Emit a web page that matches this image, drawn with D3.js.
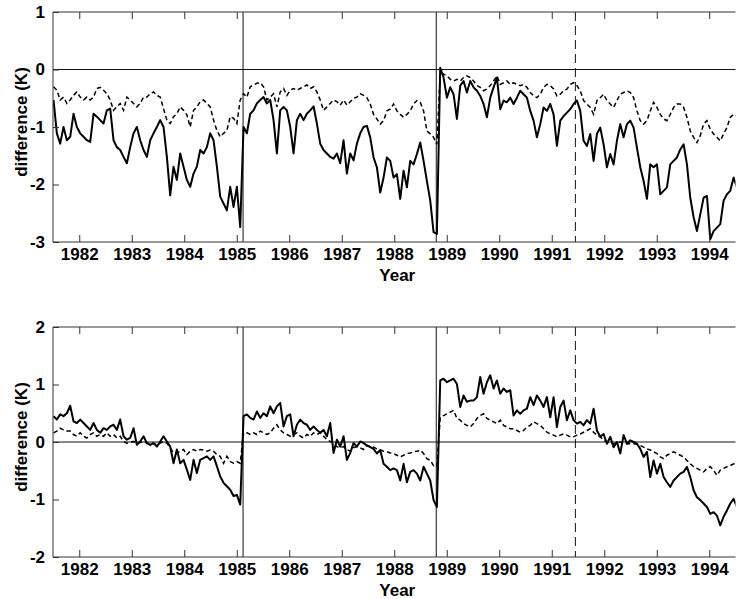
<!DOCTYPE html>
<html>
<head>
<meta charset="utf-8">
<script src="https://cdn.jsdelivr.net/npm/d3@7"></script>
<style>
  body { margin: 0; background: #fff; }
  svg { display: block; }
  text { font-family: "Liberation Sans", Arial, Helvetica, sans-serif; font-weight: bold; }
</style>
</head>
<body>
<div id="chart"></div>
<script>
const startYear = 1981.51;
const stepYear = 0.0635;

const yearTicks = d3.range(1982, 1995);
const topTicks = [-3, -2, -1, 0, 1];
const bottomTicks = [-2, -1, 0, 1, 2];
const breakYears = [1985.12, 1988.8];   // solid vertical lines
const dashedYear = 1991.45;             // dashed vertical line

// upper panel
const topSolid = [
  -0.53, -1.11, -1.29, -1.0, -1.23, -1.17, -0.77, -1.0, -1.11, -1.17,
  -1.23, -1.26, -0.77, -0.82, -0.88, -0.94, -0.71, -0.68, -1.23, -1.35,
  -1.40, -1.52, -1.63, -1.35, -1.11, -1.0, -1.23, -1.40, -1.52, -1.23,
  -1.11, -1.0, -0.88, -1.0, -1.52, -2.19, -1.69, -1.92, -1.46, -1.69,
  -1.92, -2.04, -1.81, -1.69, -1.40, -1.46, -1.35, -1.11, -1.23, -1.69,
  -2.21, -2.33, -2.45, -2.04, -2.39, -2.04, -2.74, -1.0, -1.11, -0.77,
  -0.71, -0.59, -0.53, -0.48, -0.59, -0.53, -0.88, -1.46, -0.71, -0.65,
  -0.71, -1.0, -1.46, -0.88, -0.77, -0.88, -0.77, -0.71, -0.64, -0.94,
  -1.29, -1.40, -1.46, -1.52, -1.55, -1.46, -1.63, -1.23, -1.81, -1.46,
  -1.58, -1.29, -1.11, -1.0,
  -0.98, -1.18, -1.53, -1.70, -2.14, -1.88, -1.53, -1.59, -1.88, -1.82,
  -2.25, -1.76, -2.05, -1.59, -1.65, -1.47, -1.27, -1.59, -1.94, -2.28,
  -2.83, -2.86, 0.03, -0.14, -0.49, -0.31, -0.43, -0.86, -0.28, -0.20,
  -0.40, -0.20, -0.31, -0.37, -0.46, -0.60, -0.83, -0.49, -0.31, -0.14,
  -0.69, -0.54, -0.57, -0.49, -0.60, -0.49, -0.37, -0.43, -0.49, -0.72,
  -0.89, -1.18, -0.95, -0.66, -0.72, -0.60, -0.78, -1.33, -0.89, -0.81,
  -0.75, -0.69, -0.60, -0.54, -0.72, -1.24, -1.33, -1.12, -1.59, -1.12,
  -1.01, -1.30, -1.70, -1.47, -1.65, -1.24, -0.95, -1.18, -0.95, -0.89,
  -1.01, -1.36, -1.70, -1.94, -2.25, -1.65, -1.70, -1.65, -2.17, -2.11,
  -2.05, -1.65, -1.59, -1.53, -1.39, -1.30, -1.65, -2.23, -2.57, -2.81,
  -2.52, -2.23, -2.20, -2.95, -2.81, -2.75, -2.69, -2.28, -2.17, -2.11,
  -1.88, -2.05
];
const topDashed = [
  -0.30, -0.36, -0.53, -0.48, -0.59, -0.53, -0.45, -0.39, -0.48, -0.53,
  -0.48, -0.53, -0.48, -0.33, -0.31, -0.36, -0.42, -0.53, -0.71, -0.65,
  -0.59, -0.71, -0.48, -0.53, -0.59, -0.65, -0.59, -0.48, -0.48, -0.42,
  -0.39, -0.45, -0.48, -0.68, -0.88, -0.94, -0.82, -0.77, -0.65, -0.71,
  -0.79, -1.00, -0.71, -0.65, -0.56, -0.53, -0.59, -0.65, -0.88, -1.06,
  -1.17, -1.11, -1.06, -0.82, -0.85, -0.94, -0.53, -0.42, -0.48, -0.30,
  -0.27, -0.24, -0.23, -0.30, -0.53, -0.48, -0.42, -0.65, -0.39, -0.33,
  -0.45, -0.36, -0.33, -0.36, -0.33, -0.30, -0.27, -0.33, -0.30, -0.39,
  -0.53, -0.71, -0.65, -0.59, -0.53, -0.56, -0.62, -0.53, -0.62, -0.56,
  -0.50, -0.48, -0.42, -0.45,
  -0.49, -0.60, -0.78, -0.86, -0.95, -0.89, -0.72, -0.69, -0.60, -0.72,
  -0.78, -0.83, -0.78, -0.72, -0.60, -0.54, -0.57, -0.72, -1.07, -1.12,
  -1.18, -1.30, -0.05, -0.08, -0.11, -0.17, -0.20, -0.17, -0.20, -0.14,
  -0.11, -0.14, -0.20, -0.28, -0.31, -0.37, -0.34, -0.28, -0.20, -0.11,
  -0.26, -0.23, -0.20, -0.26, -0.23, -0.26, -0.28, -0.26, -0.31, -0.40,
  -0.46, -0.49, -0.43, -0.31, -0.26, -0.28, -0.34, -0.46, -0.43, -0.37,
  -0.34, -0.26, -0.23, -0.28, -0.37, -0.54, -0.60, -0.66, -0.78, -0.54,
  -0.49, -0.43, -0.54, -0.60, -0.66, -0.54, -0.43, -0.40, -0.37, -0.40,
  -0.49, -0.72, -0.89, -0.95, -0.89, -0.72, -0.57, -0.66, -0.78, -0.86,
  -0.89, -0.78, -0.66, -0.60, -0.60, -0.66, -0.83, -1.07, -1.18, -1.27,
  -1.15, -0.95, -0.89, -1.04, -1.12, -1.18, -1.24, -1.12, -1.01, -0.83,
  -0.78, -0.81
];

// lower panel
const bottomSolid = [
  0.45, 0.39, 0.48, 0.45, 0.50, 0.63, 0.36, 0.33, 0.39, 0.33,
  0.27, 0.21, 0.33, 0.21, 0.16, 0.24, 0.21, 0.27, 0.30, 0.21,
  0.39, 0.10, 0.04, 0.07, 0.24, -0.05, 0.01, 0.10, -0.02, -0.05,
  -0.02, -0.08, 0.01, 0.10, 0.01, -0.08, -0.37, -0.13, -0.37, -0.31,
  -0.48, -0.66, -0.31, -0.54, -0.31, -0.28, -0.25, -0.31, -0.25, -0.42,
  -0.60, -0.71, -0.77, -0.83, -0.94, -0.92, -1.09, 0.45, 0.48, 0.42,
  0.39, 0.53, 0.42, 0.50, 0.45, 0.62, 0.50, 0.62, 0.68, 0.27,
  0.45, 0.48, 0.10, 0.30, 0.39, 0.33, 0.30, 0.21, 0.27, 0.21,
  0.16, 0.21, 0.10, 0.33, -0.19, 0.04, -0.08, 0.10, -0.31, -0.19,
  -0.02, -0.08, 0.01, -0.02,
  -0.06, -0.09, -0.12, -0.20, -0.14, -0.38, -0.43, -0.49, -0.46, -0.49,
  -0.67, -0.38, -0.70, -0.52, -0.49, -0.55, -0.67, -0.43, -0.55, -0.67,
  -1.01, -1.13, 1.07, 1.10, 1.04, 1.07, 1.10, 1.01, 0.61, 0.81,
  0.70, 0.72, 0.72, 0.78, 1.13, 0.84, 1.04, 1.16, 0.93, 1.07,
  0.84, 0.93, 0.87, 0.90, 0.46, 0.55, 0.49, 0.55, 0.58, 0.78,
  0.64, 0.81, 0.72, 0.61, 0.78, 0.43, 0.78, 0.26, 0.61, 0.72,
  0.38, 0.55, 0.38, 0.32, 0.35, 0.29, 0.38, 0.32, 0.58, 0.20,
  0.09, 0.14, -0.03, 0.09, -0.09, 0.0, -0.20, 0.12, -0.03, 0.03,
  0.0, -0.03, -0.12, -0.26, -0.17, -0.61, -0.32, -0.55, -0.38, -0.61,
  -0.70, -0.78, -0.67, -0.61, -0.55, -0.52, -0.43, -0.61, -0.84, -0.96,
  -1.01, -1.07, -1.13, -1.25, -1.22, -1.28, -1.45, -1.30, -1.19, -1.07,
  -0.99, -1.13
];
const bottomDashed = [
  0.16, 0.19, 0.24, 0.21, 0.19, 0.19, 0.13, 0.10, 0.16, 0.10,
  0.07, 0.13, 0.16, 0.10, 0.13, 0.10, 0.16, 0.10, 0.13, 0.07,
  0.10, 0.01, -0.02, -0.01, 0.01, -0.02, -0.01, 0.01, -0.02, -0.03,
  -0.02, -0.05, -0.02, 0.01, -0.02, -0.10, -0.19, -0.19, -0.16, -0.13,
  -0.22, -0.16, -0.13, -0.16, -0.13, -0.14, -0.16, -0.14, -0.16, -0.22,
  -0.25, -0.37, -0.25, -0.34, -0.37, -0.34, -0.37, 0.16, 0.16, 0.13,
  0.16, 0.13, 0.19, 0.16, 0.13, 0.16, 0.24, 0.30, 0.21, 0.16,
  0.13, 0.10, 0.13, 0.16, 0.10, 0.07, 0.13, 0.10, 0.16, 0.13,
  0.16, 0.10, 0.04, 0.01, -0.02, -0.08, -0.10, -0.08, -0.13, -0.16,
  -0.10, -0.08, -0.10, -0.13,
  -0.06, -0.08, -0.09, -0.12, -0.14, -0.16, -0.17, -0.19, -0.20, -0.23,
  -0.26, -0.23, -0.20, -0.19, -0.17, -0.16, -0.14, -0.20, -0.29, -0.32,
  -0.41, -0.43, 0.43, 0.46, 0.49, 0.52, 0.55, 0.41, 0.38, 0.32,
  0.29, 0.26, 0.32, 0.41, 0.46, 0.49, 0.41, 0.38, 0.35, 0.32,
  0.38, 0.29, 0.26, 0.23, 0.23, 0.20, 0.17, 0.20, 0.26, 0.29,
  0.35, 0.32, 0.29, 0.23, 0.17, 0.14, 0.12, 0.09, 0.12, 0.14,
  0.12, 0.09, 0.09, 0.12, 0.14, 0.17, 0.20, 0.23, 0.17, 0.12,
  0.09, 0.03, 0.0, -0.02, -0.03, -0.02, 0.0, -0.02, -0.03, -0.03,
  -0.03, -0.04, -0.06, -0.09, -0.12, -0.14, -0.17, -0.20, -0.26, -0.29,
  -0.23, -0.20, -0.17, -0.20, -0.23, -0.26, -0.32, -0.38, -0.43, -0.46,
  -0.49, -0.52, -0.46, -0.43, -0.49, -0.58, -0.49, -0.46, -0.43, -0.41,
  -0.38, -0.39
];

const width = 736, height = 599;
const left = 53, right = 735.5;
const fontSize = 17;

const svg = d3.select('#chart').append('svg')
  .attr('width', width)
  .attr('height', height);

const x = d3.scaleLinear().domain([1981.5, 1994.5]).range([left, right]);

function drawPanel(opts) {
  const y = d3.scaleLinear().domain(opts.domain).range([opts.bottom, opts.top]);
  const g = svg.append('g');
  const clipId = 'clip-' + opts.name;

  svg.append('clipPath').attr('id', clipId)
    .append('rect')
    .attr('x', left).attr('y', opts.top)
    .attr('width', right - left).attr('height', opts.bottom - opts.top);

  // zero line
  g.append('line')
    .attr('x1', left).attr('x2', right)
    .attr('y1', y(0)).attr('y2', y(0))
    .attr('stroke', '#111').attr('stroke-width', 1);

  // vertical markers
  breakYears.forEach(yr => {
    g.append('line')
      .attr('x1', x(yr)).attr('x2', x(yr))
      .attr('y1', opts.top).attr('y2', opts.bottom)
      .attr('stroke', '#111').attr('stroke-width', 1);
  });
  g.append('line')
    .attr('x1', x(dashedYear)).attr('x2', x(dashedYear))
    .attr('y1', opts.top).attr('y2', opts.bottom)
    .attr('stroke', '#111').attr('stroke-width', 1)
    .attr('stroke-dasharray', '9,5');

  const line = d3.line()
    .x((d, i) => x(startYear + i * stepYear))
    .y(d => y(d));

  const series = g.append('g').attr('clip-path', `url(#${clipId})`);
  series.append('path')
    .datum(opts.dashed)
    .attr('d', line)
    .attr('fill', 'none')
    .attr('stroke', '#000')
    .attr('stroke-width', 1.5)
    .attr('stroke-dasharray', '4.5,3');
  series.append('path')
    .datum(opts.solid)
    .attr('d', line)
    .attr('fill', 'none')
    .attr('stroke', '#000')
    .attr('stroke-width', 2)
    .attr('stroke-linejoin', 'round');

  // frame: top, left, bottom
  g.append('path')
    .attr('d', `M${right},${opts.top}H${left}V${opts.bottom}H${right}`)
    .attr('fill', 'none')
    .attr('stroke', '#333')
    .attr('stroke-width', 1);

  // bottom axis with inward ticks
  const xAxis = g.append('g')
    .attr('transform', `translate(0,${opts.bottom})`)
    .call(d3.axisBottom(x).tickValues(yearTicks).tickFormat(d3.format('d'))
      .tickSizeInner(-7).tickSizeOuter(0).tickPadding(6));
  xAxis.select('.domain').remove();
  xAxis.selectAll('line').attr('stroke', '#333');
  xAxis.selectAll('text').attr('font-size', fontSize).attr('fill', '#000')
    .attr('font-family', null);

  // top ticks
  const topAxis = g.append('g')
    .attr('transform', `translate(0,${opts.top})`)
    .call(d3.axisTop(x).tickValues(yearTicks).tickFormat('')
      .tickSizeInner(-7).tickSizeOuter(0));
  topAxis.select('.domain').remove();
  topAxis.selectAll('line').attr('stroke', '#333');

  // left axis
  const yAxis = g.append('g')
    .attr('transform', `translate(${left},0)`)
    .call(d3.axisLeft(y).tickValues(opts.ticks).tickFormat(d => String(d))
      .tickSizeInner(-6).tickSizeOuter(0).tickPadding(8));
  yAxis.select('.domain').remove();
  yAxis.selectAll('line').attr('stroke', '#333');
  yAxis.selectAll('text').attr('font-size', fontSize).attr('fill', '#000')
    .attr('font-family', null);

  // axis titles
  g.append('text')
    .attr('x', (left + right) / 2 + 3)
    .attr('y', opts.bottom + 39)
    .attr('text-anchor', 'middle')
    .attr('font-size', fontSize)
    .text('Year');
  g.append('text')
    .attr('transform', `translate(27,${(opts.top + opts.bottom) / 2 - 5}) rotate(-90)`)
    .attr('text-anchor', 'middle')
    .attr('font-size', fontSize)
    .text('difference (K)');
}

drawPanel({ name: 'top', domain: [-3, 1], top: 12, bottom: 242,
  ticks: topTicks, solid: topSolid, dashed: topDashed });
drawPanel({ name: 'bottom', domain: [-2, 2], top: 327, bottom: 557,
  ticks: bottomTicks, solid: bottomSolid, dashed: bottomDashed });
</script>
</body>
</html>
